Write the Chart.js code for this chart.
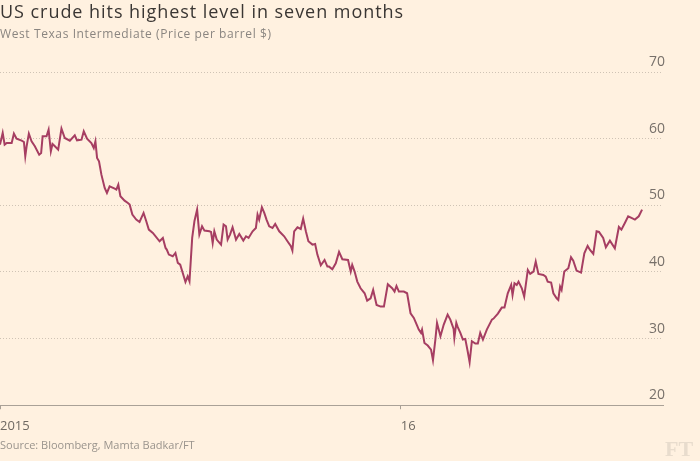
<!DOCTYPE html>
<html>
<head>
<meta charset="utf-8">
<script src="https://cdn.jsdelivr.net/npm/chart.js@4"></script>
<style>
  html, body { margin: 0; padding: 0; background: #fff1e0; }
  #wrap { position: relative; width: 700px; height: 461px; overflow: hidden; font-family: "Open Sans", sans-serif; }
  #wrap canvas { position: absolute; left: 0; top: 0; }
  .title { position: absolute; left: 0; top: -1px; font-size: 18px; letter-spacing: 0.95px; color: #3a3633; white-space: nowrap; }
  .subtitle { position: absolute; left: 0; top: 25px; font-size: 12px; letter-spacing: 0.6px; color: #8a8580; white-space: nowrap; }
  .source { position: absolute; left: 0; top: 437px; font-size: 11px; color: #9a948d; white-space: nowrap; }
  .logo { position: absolute; left: 665px; top: 436px; font-family: "Liberation Serif", "DejaVu Serif", serif; font-weight: bold; font-size: 22px; color: #e8dccd; }
</style>
</head>
<body>
<div id="wrap">
  <canvas id="myChart" width="700" height="461"></canvas>
  <div class="title">US crude hits highest level in seven months</div>
  <div class="subtitle">West Texas Intermediate (Price per barrel $)</div>
  <div class="source">Source: Bloomberg, Mamta Badkar/FT</div>
  <div class="logo">FT</div>
</div>
<script>
// Days since start of chart (approx.) and WTI price
const days = [
  0, 1.8, 3.1, 4.5, 7.8, 9.3, 11.1, 14.5, 16, 16.9,
  17.8, 19.3, 21.1, 23.3, 26.2, 27.5, 28.5, 31.1, 32.5, 34,
  35.1, 36.7, 38.9, 41.1, 43.3, 46.7, 50, 51.5, 54.5, 56,
  58.2, 61.1, 62.7, 63.8, 64.9, 66.2, 67.8, 70, 71.5, 73.3,
  76.7, 77.8, 79.1, 80.5, 83.3, 85.5, 86.7, 88.5, 91.1, 93.3,
  96, 97.8, 99.5, 102.2, 106.7, 108.9, 110.7, 111.5, 112.9, 115.5,
  117.3, 118.9, 120.5, 122.2, 124, 125.5, 126.7, 128.5, 130, 131.8,
  133.3, 135.1, 136.7, 140, 141.1, 142.2, 143.3, 144.9, 147.8, 149.5,
  151.1, 152.2, 153.8, 155.5, 157.8, 160, 162.7, 164.5, 166.2, 168.9,
  171.1, 172.2, 173.3, 175.1, 176.7, 178.2, 180, 182.2, 184, 186.7,
  190, 192.2, 194.5, 195.5, 196.7, 198.9, 201.1, 202.7, 204.5, 206.2,
  208.9, 210.7, 212.2, 214.5, 217, 218.9, 220, 222.2, 224.5, 226.7,
  228.9, 232.7, 234.5, 235.5, 237.1, 238.9, 241.1, 243.8, 245.5, 247.8,
  249.5, 251.8, 254.5, 256.7, 259.3, 262.2, 263.8, 265.1, 266.7, 270,
  272.2, 274.5, 276.7, 278.9, 280, 281.5, 282.2, 283.8, 286, 288.2,
  289.5, 291.1, 292.2, 294.5, 296.7, 299.3, 301.1, 303.3, 303.8, 305.1,
  306, 307.8, 309.5, 311.1, 312.7, 314, 315.5, 317.8, 319.5, 321.1,
  322.9, 325.5, 328.9, 330, 332.9, 335.5, 337.3, 339.5, 341.8, 342.7,
  344, 345.5, 346.7, 348.9, 350.5, 352.9, 354.5, 356.7, 358.2, 360,
  363.3, 364.9, 366.2, 368.5, 370, 372.2, 373.3, 374.5, 375.5, 377.3,
  380, 381.8, 383.3, 385.5, 388.5, 390.7, 392.9, 394.5, 396.7, 398.9,
  400.5, 403.3, 405.1, 407.8, 411.1, 413.8, 415.5, 417.8, 420, 422.2,
  424.5, 427.1, 429.3
];
const prices = [
  59.1, 60.85, 59.1, 59.35, 59.35, 60.75, 60, 59.7, 59.5, 57.35,
  58.85, 60.75, 59.6, 58.85, 57.6, 57.85, 60.35, 60.35, 61.35, 58.1,
  59.2, 58.85, 58.35, 61.5, 60.1, 59.7, 60.5, 59.75, 59.85, 61.1,
  60, 59.35, 58.6, 59.6, 57.1, 56.6, 54.6, 52.6, 51.85, 52.85,
  52.5, 52.35, 53.1, 51.35, 50.7, 50.35, 50.1, 48.6, 47.85, 47.5,
  48.85, 47.6, 46.35, 45.85, 44.6, 45.1, 43.6, 43.35, 42.6, 42.35,
  42.85, 41.35, 41.1, 39.85, 38.5, 39.35, 38.6, 45.1, 47.6, 49.35,
  45.6, 46.85, 46.2, 46.1, 46, 44.35, 46.1, 44.85, 44.1, 47.1,
  46.85, 44.85, 45.6, 46.7, 44.85, 45.7, 44.7, 45.35, 45.1, 46.1,
  46.6, 48.6, 47.85, 49.7, 48.85, 47.85, 46.85, 46.6, 47.2, 46.1,
  45.35, 44.6, 43.85, 43.2, 46.1, 46.7, 46.45, 48, 46.1, 44.6,
  44.1, 44.2, 42.6, 41, 41.8, 40.8, 40.8, 40.4, 41.3, 43,
  41.9, 41.8, 40.05, 41.05, 40.05, 38.55, 37.55, 36.8, 35.7, 36.05,
  37.3, 35.05, 34.8, 34.8, 38.15, 37.55, 37.05, 37.9, 37.05, 37.05,
  36.8, 33.8, 33.1, 31.95, 31.35, 30.85, 31.35, 29.35, 28.95, 28.35,
  26.75, 29.85, 32.35, 30.35, 32.1, 33.6, 32.85, 31.45, 30.1, 32.35,
  31.75, 30.85, 29.85, 29.95, 28.1, 26.45, 29.6, 29.25, 29.25, 30.85,
  29.85, 31.35, 32.85, 33, 33.75, 34.65, 34.65, 36.8, 38.05, 36.55,
  38.3, 38.05, 38.55, 37.55, 36.3, 40.3, 39.7, 40.05, 41.55, 39.7,
  39.55, 39.3, 38.55, 38.4, 36.8, 36.05, 35.8, 37.8, 37.3, 40.05,
  40.55, 42.2, 41.7, 40.2, 39.9, 42.8, 43.9, 43.3, 42.7, 46.1,
  46, 45.1, 43.7, 44.7, 43.55, 46.75, 46.35, 47.35, 48.35, 48.1,
  47.85, 48.35, 49.35
];

// x-axis tick labels and where they sit (days)
const xTickDays = [0, 268];
const xTickLabels = ['2015', '16'];
const yTicks = [20, 30, 40, 50, 60, 70];

const ctx = document.getElementById('myChart').getContext('2d');

const points = days.map((d, i) => ({ x: d, y: prices[i] }));

const chart = new Chart(ctx, {
  type: 'line',
  data: {
    datasets: [{
      data: points,
      borderColor: '#a63e62',
      borderWidth: 2,
      pointRadius: 0,
      tension: 0,
      fill: false
    }]
  },
  options: {
    responsive: false,
    animation: false,
    layout: { padding: { top: 72, right: 33, bottom: 18.5, left: 0 } },
    plugins: {
      legend: { display: false },
      tooltip: { enabled: false }
    },
    scales: {
      x: {
        type: 'linear',
        min: 0,
        max: 443.3,
        afterBuildTicks: (axis) => { axis.ticks = xTickDays.map(v => ({ value: v })); },
        ticks: {
          autoSkip: false,
          maxRotation: 0,
          align: 'start',
          // padding 0 so the chart starts at the left edge; the tall line height pushes labels down
          padding: 0,
          color: '#6f6962',
          font: { family: 'Open Sans', size: 13, lineHeight: 2.56 },
          callback: (value) => xTickLabels[xTickDays.indexOf(value)]
        },
        grid: {
          drawOnChartArea: false,
          drawTicks: true,
          tickLength: 4,
          color: '#a89f95'
        },
        border: { display: true, color: '#aaa197', width: 1 }
      },
      y: {
        position: 'right',
        min: 20,
        max: 70,
        afterBuildTicks: (axis) => { axis.ticks = yTicks.map(v => ({ value: v })); },
        ticks: {
          mirror: true,
          padding: 2,
          labelOffset: -10,
          color: '#77706a',
          font: { family: 'Open Sans', size: 14 }
        },
        grid: {
          drawTicks: false,
          color: '#cfc3b5',
          lineWidth: 1
        },
        // in v4 the dash of the grid lines is set here
        border: { display: false, dash: [1, 2] }
      }
    }
  }
});
</script>
</body>
</html>
